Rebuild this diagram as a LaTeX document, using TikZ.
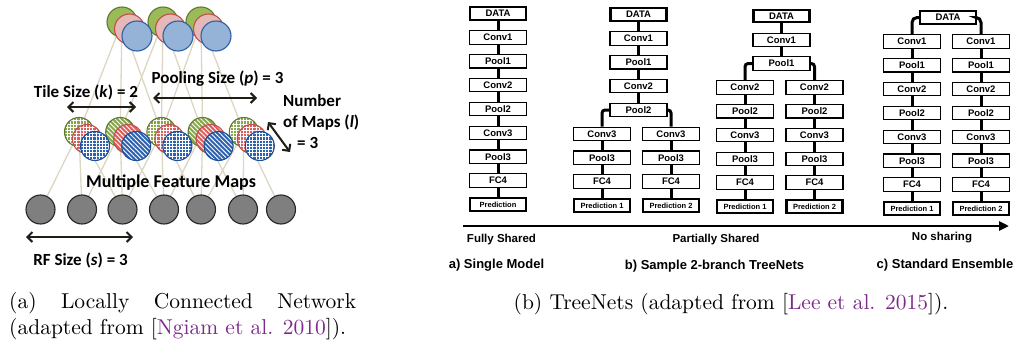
\documentclass[tikz,border=0pt]{standalone}
\usepackage{fontspec}
\newfontfamily\lblfont{Carlito}
\newfontfamily\boxfont{Liberation Sans}
\newfontfamily\capfont{lmroman10-regular.otf}
\usetikzlibrary{arrows.meta,patterns.meta,calc}
\definecolor{linkbeige}{HTML}{DCD6C2}
\definecolor{tgreen}{HTML}{9BBB59}
\definecolor{tgreenb}{HTML}{5F7A2F}
\definecolor{tpink}{HTML}{E6B9B8}
\definecolor{tpinkb}{HTML}{C0504D}
\definecolor{tblue}{HTML}{95B3D7}
\definecolor{tblueb}{HTML}{2F5FA5}
\definecolor{mgreen}{HTML}{86A848}
\definecolor{mpink}{HTML}{DA5F5C}
\definecolor{mblue}{HTML}{2D62B0}
\definecolor{mblueb}{HTML}{1F4E99}
\definecolor{ingray}{HTML}{7F7F7F}
\definecolor{arrowdark}{HTML}{1E1E16}
\definecolor{citepurple}{HTML}{7D2B8B}
\begin{document}
\begin{tikzpicture}[x=1pt,y=-1pt,
  unit/.style={circle,inner sep=0pt,minimum size=29pt,line width=1.1pt},
  gridfill/.style={preaction={fill=#1},pattern={Hatch[angle=0,distance=3.2pt,line width=0.8pt]},pattern color=white},
  stripefill/.style={preaction={fill=#1},pattern={Lines[angle=-45,distance=3.2pt,line width=0.9pt]},pattern color=white},
  wire/.style={draw=linkbeige,line width=1.3pt},
  dim/.style={draw=arrowdark,line width=2pt,{Straight Barb[length=5pt,width=10pt]}-{Straight Barb[length=5pt,width=10pt]}},
  lbl/.style={inner sep=0pt,font=\lblfont\bfseries\fontsize{17}{20}\selectfont,text=black},
  netbox/.style={draw=black,line width=1.1pt,fill=white,minimum width=57pt,minimum height=13.5pt,inner sep=0pt,font=\boxfont\bfseries\fontsize{9.5}{10}\selectfont},
  endbox/.style={netbox,line width=2.3pt,minimum width=56pt,minimum height=12.5pt},
  predbox/.style={endbox,font=\boxfont\bfseries\fontsize{7.5}{8}\selectfont},
  link/.style={line width=3pt,black},
  axlbl/.style={inner sep=0pt,font=\boxfont\bfseries\fontsize{11.5}{13}\selectfont},
  rowlbl/.style={inner sep=0pt,font=\boxfont\bfseries\fontsize{13}{15}\selectfont},
  captxt/.style={inner sep=0pt,font=\capfont\fontsize{21.5}{26}\selectfont}
]
\fill[white] (0,0) rectangle (1021,348);
\useasboundingbox (0,0) rectangle (1021,348);

% ---------------- locally connected network ----------------
% input units
\foreach \x [count=\j from 0] in {40.5,82,122.5,164,201,243,281}
  \coordinate (inC\j) at (\x,209.5);
% feature map stacks (green unit position)
\foreach \j in {0,...,4}
  \coordinate (midC\j) at (79+41.2*\j,132);
\foreach \k/\x in {0/122,1/163,2/201}
  \coordinate (topC\k) at (\x,22);

% receptive-field wires
\foreach \j in {0,...,4}{
  \pgfmathtruncatemacro{\ja}{\j+1}
  \pgfmathtruncatemacro{\jb}{\j+2}
  \draw[wire] (midC\j) -- (inC\j);
  \draw[wire] (midC\j) -- (inC\ja);
  \draw[wire] (midC\j) -- (inC\jb);
}
\foreach \k in {0,1,2}{
  \pgfmathtruncatemacro{\ka}{\k+1}
  \pgfmathtruncatemacro{\kb}{\k+2}
  \draw[wire] (topC\k) -- (midC\k);
  \draw[wire] (topC\k) -- (midC\ka);
  \draw[wire] (topC\k) -- (midC\kb);
}

% input layer
\foreach \j in {0,...,6}
  \node[unit,draw=black!85,fill=ingray] (in\j) at (inC\j) {};

% feature maps: green, then red, then blue
\foreach \j in {0,2,4}{
  \node[unit,draw=tgreenb,gridfill=mgreen] (mg\j) at (midC\j) {};
}
\foreach \j in {1,3}{
  \node[unit,draw=tgreenb,stripefill=mgreen] (mg\j) at (midC\j) {};
}
\foreach \j in {0,2,4}{
  \node[unit,draw=tpinkb,gridfill=mpink] (mp\j) at ($(midC\j)+(8,7)$) {};
}
\foreach \j in {1,3}{
  \node[unit,draw=tpinkb,stripefill=mpink] (mp\j) at ($(midC\j)+(8,7)$) {};
}
\foreach \j in {0,2,4}{
  \node[unit,draw=mblueb,gridfill=mblue] (mb\j) at ($(midC\j)+(16,14)$) {};
}
\foreach \j in {1,3}{
  \node[unit,draw=mblueb,stripefill=mblue] (mb\j) at ($(midC\j)+(16,14)$) {};
}

% pooling layer
\foreach \k in {0,1,2}
  \node[unit,minimum size=30pt,draw=tgreenb,fill=tgreen] (tg\k) at (topC\k) {};
\foreach \k in {0,1,2}
  \node[unit,minimum size=30pt,draw=tpinkb,fill=tpink] (tp\k) at ($(topC\k)+(7.5,7)$) {};
\foreach \k in {0,1,2}
  \node[unit,minimum size=30pt,draw=tblueb,fill=tblue] (tb\k) at ($(topC\k)+(15,14)$) {};

% dimension arrows and labels
\coordinate (tileL) at (67,107);  \coordinate (tileR) at (136,107);
\coordinate (poolL) at (153,98);  \coordinate (poolR) at (257,98);
\coordinate (mapsA) at (268,122); \coordinate (mapsB) at (290,152);
\coordinate (rfL) at (26,237);    \coordinate (rfR) at (133,237);
\draw[dim] (tileL) -- (tileR);
\draw[dim] (poolL) -- (poolR);
\draw[dim] (mapsA) -- (mapsB);
\draw[dim] (rfL) -- (rfR);

\node[lbl,anchor=base] (poolTxt) at (217.5,83) {Pooling Size (\textit{p}) = 3};
\node[lbl,anchor=base] (tileTxt) at (86,97) {Tile Size (\textit{k}) = 2};
\node[lbl,anchor=base west] (mapsTxt1) at (283,106) {Number};
\node[lbl,anchor=base west] (mapsTxt2) at (283,127) {of Maps (\textit{l})};
\node[lbl,anchor=base west] (mapsTxt3) at (297,148) {= 3};
\node[lbl,anchor=base,font=\lblfont\bfseries\fontsize{18}{20}\selectfont] (featTxt) at (171,187) {Multiple Feature Maps};
\node[lbl,anchor=base] (rfTxt) at (80.5,265) {RF Size (\textit{s}) = 3};

\node[captxt,anchor=base west] (capA1) at (9,308)
  {\hbox to 347pt{(a)\hfill Locally\hfill Connected\hfill Network}};
\node[captxt,anchor=base west] (capA2) at (9,334.5)
  {(adapted from [\textcolor{citepurple}{Ngiam et al. 2010}]).};

% ---------------- TreeNets ----------------
% a) single model
\node[endbox] (aDATA) at (498,13.5) {DATA};
\foreach \n [count=\i] in {Conv1,Pool1,Conv2,Pool2,Conv3,Pool3,FC4}
  \node[netbox] (a\n) at (498,13.5+23.875*\i) {\n};
\node[predbox] (aPred) at (498,13.5+23.875*8) {Prediction};
\draw[link] (aDATA) -- (aConv1) -- (aPool1) -- (aConv2) -- (aPool2) -- (aConv3) -- (aPool3) -- (aFC4) -- (aPred);

% b) branching after Pool2
\node[endbox] (bDATA) at (638.5,14.5) {DATA};
\foreach \n [count=\i] in {Conv1,Pool1,Conv2,Pool2}
  \node[netbox] (b\n) at (638.5,14.5+23.875*\i) {\n};
\foreach \s/\x/\p in {L/602/1,R/671/2}{
  \foreach \n [count=\i from 5] in {Conv3,Pool3,FC4}
    \node[netbox] (b\n\s) at (\x,14.5+23.875*\i) {\n};
  \node[predbox] (bPred\s) at (\x,14.5+23.875*8) {Prediction \p};
}
\draw[link] (bDATA) -- (bConv1) -- (bPool1) -- (bConv2) -- (bPool2);
\draw[link,rounded corners=3pt] (bPool2.west) -| (bConv3L.north);
\draw[link,rounded corners=3pt] (bPool2.east) -| (bConv3R.north);
\foreach \s in {L,R}
  \draw[link] (bConv3\s) -- (bPool3\s) -- (bFC4\s) -- (bPred\s);

% b) branching after Pool1
\node[endbox] (cDATA) at (781.5,16) {DATA};
\foreach \n [count=\i] in {Conv1,Pool1}
  \node[netbox] (c\n) at (781.5,16+23.8*\i) {\n};
\foreach \s/\x/\p in {L/745/1,R/814.5/2}{
  \foreach \n [count=\i from 3] in {Conv2,Pool2,Conv3,Pool3,FC4}
    \node[netbox] (c\n\s) at (\x,16+23.8*\i) {\n};
  \node[predbox] (cPred\s) at (\x,16+23.8*8) {Prediction \p};
}
\draw[link] (cDATA) -- (cConv1) -- (cPool1);
\draw[link,rounded corners=3pt] (cPool1.west) -| (cConv2L.north);
\draw[link,rounded corners=3pt] (cPool1.east) -| (cConv2R.north);
\foreach \s in {L,R}
  \draw[link] (cConv2\s) -- (cPool2\s) -- (cConv3\s) -- (cPool3\s) -- (cFC4\s) -- (cPred\s);

% c) standard ensemble
\node[endbox] (dDATA) at (948,17.5) {DATA};
\foreach \s/\x/\p in {L/912/1,R/981/2}{
  \foreach \n [count=\i] in {Conv1,Pool1,Conv2,Pool2,Conv3,Pool3,FC4}
    \node[netbox] (d\n\s) at (\x,17.5+23.875*\i) {\n};
  \node[predbox] (dPred\s) at (\x,17.5+23.875*8) {Prediction \p};
}
\draw[link,rounded corners=5pt] (dDATA.west) -| (dConv1L.north);
\draw[link,rounded corners=5pt] (dDATA.east) -| (dConv1R.north);
\foreach \s in {L,R}
  \draw[link] (dConv1\s) -- (dPool1\s) -- (dConv2\s) -- (dPool2\s) -- (dConv3\s) -- (dPool3\s) -- (dFC4\s) -- (dPred\s);

% sharing axis
\coordinate (axL) at (463,226);
\coordinate (axR) at (1009,226);
\draw[line width=2.6pt,-{Triangle[length=10pt,width=9pt]}] (axL) -- (axR);
\node[axlbl,anchor=base] (fully) at (501.5,242) {Fully Shared};
\node[axlbl,anchor=base] (partly) at (716,242) {Partially Shared};
\node[axlbl,anchor=base] (nosh) at (942,240) {No sharing};
\node[rowlbl,anchor=base] (capSingle) at (496.5,268) {a) Single Model};
\node[rowlbl,anchor=base] (capTree) at (714.5,269) {b) Sample 2-branch TreeNets};
\node[rowlbl,anchor=base] (capEns) at (945,268) {c) Standard Ensemble};

\node[captxt,anchor=base] (capB) at (731,309)
  {(b) TreeNets (adapted from [\textcolor{citepurple}{Lee et al. 2015}]).};
\end{tikzpicture}
\end{document}
